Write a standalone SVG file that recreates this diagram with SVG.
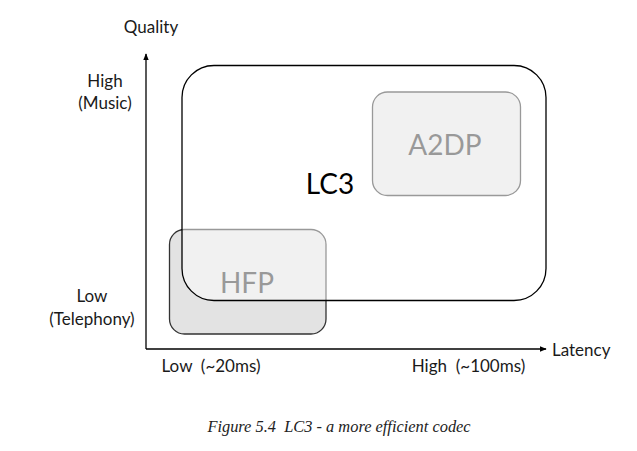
<svg xmlns="http://www.w3.org/2000/svg" width="637" height="451" viewBox="0 0 637 451">
<defs>
<style>
text{white-space:pre}
.ax{font-family:Lato,"Open Sans",sans-serif;font-size:17px;fill:#1a1a1a}
.big{font-family:Lato,"Open Sans",sans-serif;font-size:28px}
.cap{font-family:"Liberation Serif",serif;font-style:italic;font-size:16.4px;fill:#222}
</style>
<marker id="arr" viewBox="0 0 10 10" refX="9" refY="5" markerWidth="7" markerHeight="7" markerUnits="userSpaceOnUse" orient="auto">
<path d="M0,1 L10,5 L0,9 z" fill="#000"/>
</marker>
</defs>
<rect width="637" height="451" fill="#fff"/>
<g id="connectors">
<line x1="146" y1="349" x2="146" y2="54" stroke="#000" stroke-width="1.3" marker-end="url(#arr)"/>
<line x1="146" y1="349" x2="546" y2="349" stroke="#000" stroke-width="1.3" marker-end="url(#arr)"/>
</g>
<g id="hfp">
<rect x="169.5" y="229.5" width="156.5" height="104.5" rx="15" fill="#e3e3e3" stroke="#333" stroke-width="1.3"/>
<text x="247" y="293" text-anchor="middle" class="big" fill="#333">HFP</text>
</g>
<g id="a2dp">
<rect x="372.5" y="92" width="148" height="103.5" rx="15" fill="#e3e3e3" stroke="#333" stroke-width="1.3"/>
<text x="445" y="155" text-anchor="middle" class="big" fill="#333">A2DP</text>
</g>
<g id="lc3">
<rect x="182" y="65.5" width="364" height="235" rx="32" fill="#fff" fill-opacity="0.5" stroke="#000" stroke-width="1.3"/>
<text x="330" y="194" text-anchor="middle" class="big" fill="#000">LC3</text>
</g>
<g id="labels">
<text x="151" y="33" text-anchor="middle" class="ax">Quality</text>
<text x="105" y="87" text-anchor="middle" class="ax">High</text>
<text x="105" y="109" text-anchor="middle" class="ax">(Music)</text>
<text x="92" y="302" text-anchor="middle" class="ax">Low</text>
<text x="92" y="325" text-anchor="middle" class="ax">(Telephony)</text>
<text x="211" y="372" text-anchor="middle" class="ax">Low  (~20ms)</text>
<text x="468.5" y="372" text-anchor="middle" class="ax">High  (~100ms)</text>
<text x="552" y="356" class="ax">Latency</text>
<text x="339" y="432" text-anchor="middle" class="cap">Figure 5.4  LC3 - a more efficient codec</text>
</g>
</svg>
